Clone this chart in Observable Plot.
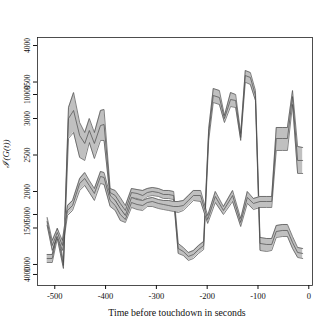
<!DOCTYPE html>
<html><head><meta charset="utf-8">
<script src="https://cdn.jsdelivr.net/npm/d3@7"></script>
<script src="https://cdn.jsdelivr.net/npm/@observablehq/plot@0.6"></script>
<style>body{margin:0;background:#fff}</style>
</head><body><div id="chart"></div>
<script>
// Series P (large swings)
const tP   = [-515,-505,-495,-489,-483,-473,-463,-451,-441,-432,-422,-410,-403,-391,-381,-371,-361,-349,-338,-327,-318,-308,-296,-286,-276,-266,-257,-247,-237,-227,-217,-207,-197,-188,-176,-166,-154,-144,-134,-125,-115,-105,-96,-83,-73,-64,-52,-42,-32,-22,-12];
const pHi  = [1137,1137,1493,1288,1027,3151,3356,2945,2808,3000,2808,3110,3123,2041,2014,1918,1808,2041,2027,2014,2041,2055,2041,2014,2014,2000,1288,1233,1164,1192,1260,1315,2863,3411,3384,3041,3356,3329,2795,3658,3630,3384,1370,1356,1356,1534,1548,1548,1383,1233,1219];
const pMid = [1082,1082,1425,1219,986,3000,3110,2767,2658,2836,2658,2904,2918,1986,1945,1836,1740,1986,1973,1945,1986,2000,1986,1959,1959,1945,1219,1178,1110,1137,1205,1260,2795,3315,3288,3000,3260,3247,2740,3589,3562,3315,1288,1274,1274,1452,1466,1466,1301,1164,1151];
const pLo  = [1027,1027,1356,1151,945,2726,2808,2466,2425,2671,2452,2699,2699,1918,1877,1753,1671,1918,1904,1877,1932,1945,1932,1904,1904,1890,1151,1123,1055,1082,1151,1205,2699,3219,3192,2945,3164,3151,2699,3497,3466,3247,1192,1178,1192,1370,1383,1383,1219,1096,1082];
// Series Q
const tQ   = [-515,-505,-495,-485,-475,-465,-451,-441,-432,-422,-410,-403,-391,-381,-371,-361,-349,-338,-327,-318,-308,-296,-286,-276,-266,-257,-247,-237,-227,-213,-199,-184,-168,-150,-134,-121,-109,-96,-83,-73,-64,-52,-42,-32,-22,-12];
const qHi  = [1644,1329,1493,1329,1808,1877,2178,2260,2151,2041,2274,2260,1945,1877,1767,1671,1918,1890,1877,1904,1918,1890,1877,1877,1863,1863,1877,1945,2014,2014,1671,2000,1794,2014,1630,2000,1904,1932,1932,1932,2877,2877,2877,3384,2616,2603];
const qMid = [1589,1260,1438,1260,1740,1808,2110,2178,2082,1973,2206,2192,1877,1808,1685,1616,1849,1822,1808,1849,1863,1836,1822,1808,1794,1794,1808,1877,1945,1945,1616,1932,1740,1945,1575,1918,1836,1863,1863,1863,2726,2726,2726,3301,2425,2425];
const qLo  = [1534,1192,1383,1192,1671,1740,2014,2082,1986,1877,2110,2096,1794,1740,1603,1575,1781,1753,1740,1794,1794,1767,1753,1740,1726,1712,1740,1808,1877,1863,1562,1849,1685,1863,1520,1836,1753,1781,1781,1781,2562,2562,2562,3192,2247,2247];

const xTicks = [-500,-400,-300,-200,-100,0];
const yTicks = [1000,1500,2000,2500,3000,3500,4000];
const y2Ticks = [3329,1685,863];
const y2Labels = ["10000","5000","4000"];
const xLabel = "Time before touchdown in seconds";
const yLabel = "ℐ(G(t))";

const rows = (t, lo, mid, hi) => t.map((x, i) => ({t: x, lo: lo[i], mid: mid[i], hi: hi[i]}));
const P = rows(tP, pLo, pMid, pHi);
const Q = rows(tQ, qLo, qMid, qHi);
const fillC = "#c0c0c0", lineC = "#4a4a4a";
const band = d => [
  Plot.areaY(d, {x: "t", y1: "lo", y2: "hi", fill: fillC}),
  Plot.lineY(d, {x: "t", y: "lo", stroke: lineC, strokeWidth: 0.7}),
  Plot.lineY(d, {x: "t", y: "mid", stroke: lineC, strokeWidth: 0.7}),
  Plot.lineY(d, {x: "t", y: "hi", stroke: lineC, strokeWidth: 0.7})
];
const font = "'Liberation Serif', 'DejaVu Serif', serif";
const chart = Plot.plot({
  width: 332, height: 332,
  marginLeft: 37, marginRight: 20, marginTop: 37, marginBottom: 47,
  style: {fontFamily: font, fontSize: "8px", background: "#fff", color: "#111"},
  x: {domain: [-534, 7.3]},
  y: {domain: [712, 4110]},
  marks: [
    ...band(P), ...band(Q),
    Plot.frame({stroke: "#222", strokeWidth: 0.8}),
    Plot.axisX({ticks: xTicks, tickFormat: d => String(d), tickSize: 4, tickPadding: 3, label: null, fontSize: 8.5}),
    Plot.axisY({ticks: yTicks, tickFormat: d => String(d), tickRotate: -90, tickSize: 4, tickPadding: 4, label: null, fontSize: 7.5}),
    Plot.axisY({ticks: y2Ticks, tickFormat: d => y2Labels[y2Ticks.indexOf(d)], tickRotate: -90, tickSize: 4, tickPadding: 4, label: null, fontSize: 7.5}),
    Plot.text([xLabel], {frameAnchor: "bottom", dx: 2, dy: 30, fontSize: 9.8, text: d => d}),
    Plot.text([yLabel], {frameAnchor: "left", dx: -31, dy: 6, rotate: -90, fontSize: 9, fontStyle: "italic", text: d => d})
  ]
});
document.getElementById("chart").append(chart);
</script>
</body></html>
